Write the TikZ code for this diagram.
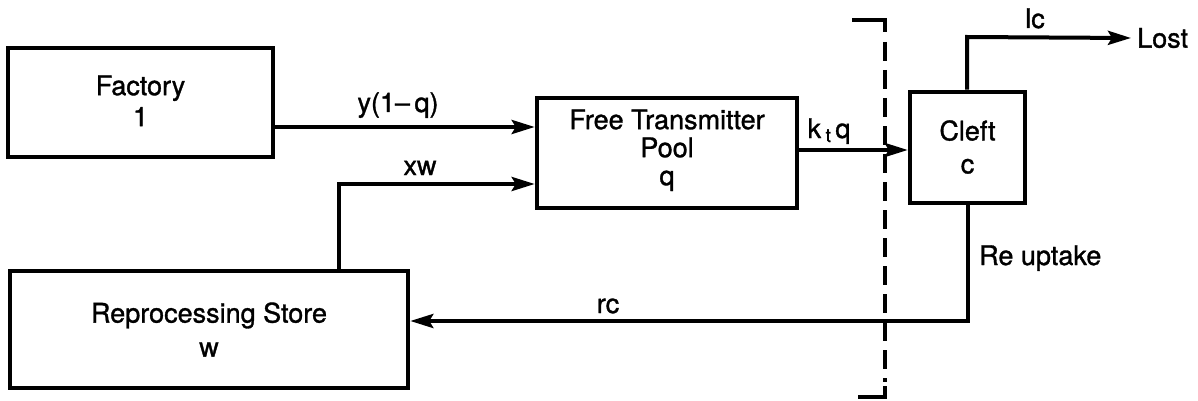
\documentclass[tikz,border=0pt]{standalone}
\usepackage{fontspec}
\setmainfont{TeX Gyre Heros}[UprightFeatures={FakeBold=1.2}]
\usetikzlibrary{arrows.meta}
\begin{document}
\begin{tikzpicture}[x=1pt,y=-1pt,
  box/.style={draw,line width=4.5pt,rectangle,inner sep=0pt,align=center},
  arr/.style={line width=4pt,-{Stealth[length=23pt,width=14pt,inset=4pt]}},
  lab/.style={inner sep=0pt,anchor=base,font=\fontsize{27}{30}\selectfont},
  brk/.style={line width=4pt},
  brkdash/.style={line width=4pt,dash pattern=on 19pt off 9pt}]
\useasboundingbox (0,0) rectangle (1198,401);
% boxes
\node[box,minimum width=265pt,minimum height=109pt,text depth=3.4pt,
  font=\fontsize{27}{31}\selectfont] (factory) at (140.5,102.5) {Factory\\1};
\node[box,minimum width=260pt,minimum height=110pt,text depth=11.4pt,
  font=\fontsize{27}{28}\selectfont] (pool) at (667,153) {Free Transmitter\\Pool\\q};
\node[box,minimum width=398pt,minimum height=117pt,text depth=0pt,
  font=\fontsize{27}{34}\selectfont] (reproc) at (209,329.5) {Reprocessing Store\\w};
\node[box,minimum width=115pt,minimum height=111pt,text depth=1.4pt,
  font=\fontsize{27}{33}\selectfont] (cleft) at (967.5,147.5) {Cleft\\c};
\node[inner sep=0pt,anchor=west,font=\fontsize{27}{30}\selectfont] (lost) at (1137,38) {Lost};
% helper coordinates
\coordinate (a1) at (0,127);
\coordinate (xwb) at (339,184);
\coordinate (k1) at (0,150);
\coordinate (lb) at (967,37);
\coordinate (rb) at (968,321);
% connectors
\draw[arr] (factory.east |- a1) -- (pool.west |- a1);
\draw[arr] (reproc.north -| xwb) -- (xwb) -- (pool.west |- xwb);
\draw[arr] (pool.east |- k1) -- (cleft.west |- k1);
\draw[arr] (cleft.north -| lb) -- (lb) -- (lost.west -| 1131,0);
\draw[arr] (cleft.south -| rb) -- (rb) -- (reproc.east |- rb);
% labels
\node[lab] (ylab) at (398,112) {y(1–\,q)};
\node[lab] (xwlab) at (420,175) {xw};
\node[lab] (ktlab) at (829,138) {k\,\raisebox{-4pt}{\fontsize{19}{19}\selectfont t}\,q};
\node[lab] (rclab) at (608,313) {rc};
\node[lab] (lclab) at (1035,28) {lc};
\node[lab,anchor=base west] (relab) at (979,265) {Re uptake};
% dashed bracket
\draw[brk] (852,20) -- (885,20) -- (885,32);
\draw[brkdash] (885,42) -- (885,382);
\draw[brk] (885,386) -- (885,397) -- (858,397);
\end{tikzpicture}
\end{document}
